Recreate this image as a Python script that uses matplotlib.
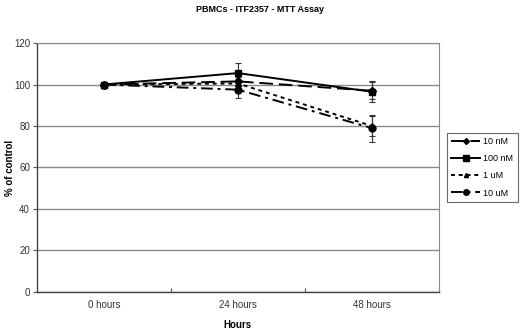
import matplotlib
matplotlib.use("Agg")
import matplotlib.pyplot as plt
from matplotlib.lines import Line2D

hours = ["0 hours", "24 hours", "48 hours"]
series = ["10 nM", "100 nM", "1 uM", "10 uM"]
values = {
    "10 nM": [100, 101.5, 97],
    "100 nM": [100, 105.5, 96.5],
    "1 uM": [100, 100.5, 80],
    "10 uM": [100, 97.5, 79],
}
errors = {
    "10 nM": [0.5, 3, 4],
    "100 nM": [0.8, 5, 5],
    "1 uM": [0.5, 3, 5],
    "10 uM": [0.5, 4, 6.5],
}
y_ticks = [0, 20, 40, 60, 80, 100, 120]

styles = {
    "10 nM": dict(marker="D", ms=4, ls=(0, (7, 3))),
    "100 nM": dict(marker="s", ms=5, ls="-"),
    "1 uM": dict(marker="^", ms=4, ls=(0, (2, 2))),
    "10 uM": dict(marker="o", ms=5, ls=(0, (6, 2.5, 1.5, 2.5))),
}

plt.rcParams["font.family"] = ["Liberation Sans", "DejaVu Sans"]

fig = plt.figure(figsize=(5.2, 3.36), dpi=100)
ax = fig.add_axes([0.071, 0.131, 0.773, 0.741])

x = list(range(len(hours)))
handles = []
for s in series:
    st = styles[s]
    ax.errorbar(x, values[s], yerr=errors[s], color="black", lw=1.4,
                ls=st["ls"], marker=st["marker"], ms=st["ms"],
                ecolor="#333333", elinewidth=0.8, capsize=2.5, capthick=0.8,
                zorder=3)
    handles.append(Line2D([], [], color="black", lw=1.4, ls=st["ls"],
                          marker=st["marker"], ms=st["ms"] - 1, label=s))

ax.set_xlim(-0.5, 2.5)
ax.set_ylim(0, 120)
ax.set_yticks(y_ticks)
ax.yaxis.grid(True, color="#8a8a8a", lw=1.0)
ax.set_axisbelow(True)

ax.set_xticks([0.5, 1.5, 2.5])
ax.set_xticklabels([])
ax.set_xticks(x, minor=True)
ax.set_xticklabels(hours, minor=True)
ax.tick_params(axis="x", which="minor", length=0, pad=6, labelsize=7, labelcolor="#333333")
ax.tick_params(axis="x", which="major", length=3, direction="in", color="#555555")
ax.tick_params(axis="y", length=3, direction="out", labelsize=7, labelcolor="#333333",
               color="#555555", pad=2)

for side in ["top", "right"]:
    ax.spines[side].set_color("#8a8a8a")
for side in ["left", "bottom"]:
    ax.spines[side].set_color("#444444")
    ax.spines[side].set_linewidth(1.0)

ax.set_xlabel("Hours", fontsize=7, fontweight="bold", labelpad=7)
ax.set_ylabel("% of control", fontsize=7, fontweight="bold")
ax.yaxis.set_label_coords(15 / 520, 0.5, transform=fig.transFigure)
fig.suptitle("PBMCs - ITF2357 - MTT Assay", fontsize=6.5, fontweight="bold", y=0.985)

leg = ax.legend(handles=handles, loc="upper left", bbox_to_anchor=(1.02, 0.64),
                fontsize=6.5, frameon=True, fancybox=False, edgecolor="#444444",
                handlelength=3.2, borderpad=0.5, labelspacing=0.9,
                handletextpad=0.3, borderaxespad=0)
leg.get_frame().set_linewidth(0.8)

fig.savefig("out.png", dpi=100)
